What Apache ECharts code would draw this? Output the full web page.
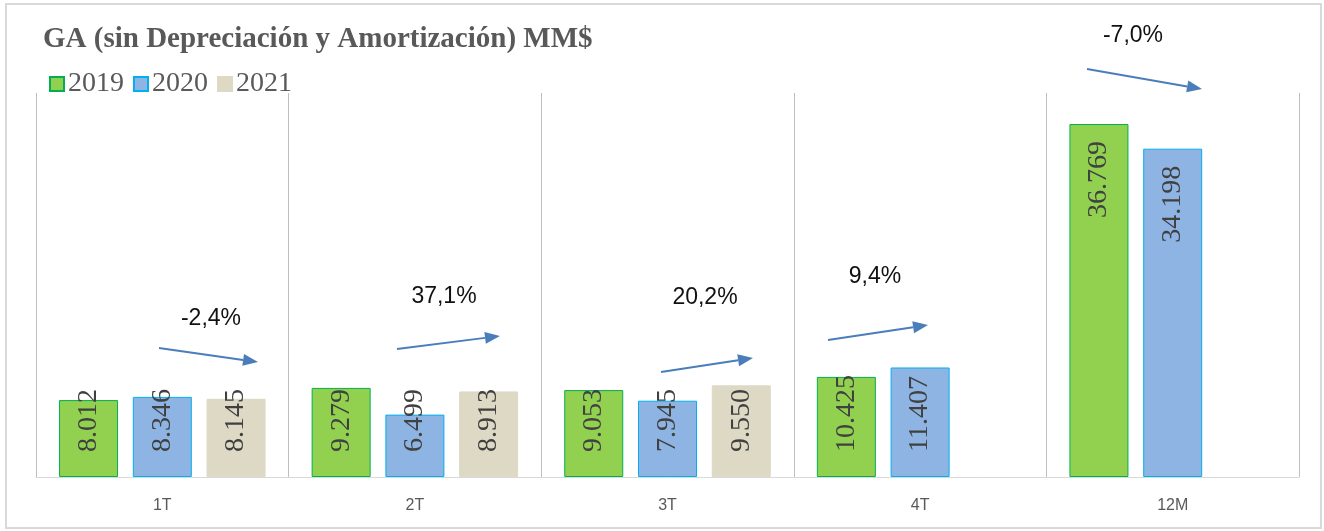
<!DOCTYPE html>
<html>
<head>
<meta charset="utf-8">
<script src="https://cdn.jsdelivr.net/npm/echarts@6/dist/echarts.min.js"></script>
<style>
  html, body { margin: 0; padding: 0; background: #fff; }
  #chartmain { width: 1324px; height: 531px; }
</style>
</head>
<body>
<div id="chartmain"></div>
<script>
var categories = ['1T', '2T', '3T', '4T', '12M'];
var years = ['2019', '2020', '2021'];
var v2019 = [8012, 9279, 9053, 10425, 36769];
var v2020 = [8346, 6499, 7945, 11407, 34198];
var v2021 = [8145, 8913, 9550, null, null];
var variaciones = ['-2,4%', '37,1%', '20,2%', '9,4%', '-7,0%'];

var fills = ['#92D050', '#8DB4E2', '#DDD9C4'];
var borders = ['#00B050', '#00B0F0', '#DDD9C4'];

// etiqueta con punto de miles: 8012 -> 8.012
function fmt(v) {
    var s = String(v);
    return s.slice(0, s.length - 3) + '.' + s.slice(s.length - 3);
}

function datos(arr) {
    return arr.map(function (v) {
        if (v == null) return null;
        if (v > 20000) {
            // barras altas: la etiqueta va arriba
            return { value: v, label: { position: 'insideTop', align: 'right', distance: 17 } };
        }
        return v;
    });
}

// flechas dibujadas a mano en el original
var flechas = [
    { x1: 159, y1: 348, x2: 258, y2: 362, tx: 211, ty: 319 },
    { x1: 397, y1: 349, x2: 500, y2: 336, tx: 444, ty: 297 },
    { x1: 661, y1: 372, x2: 753, y2: 358, tx: 705, ty: 298 },
    { x1: 828, y1: 340, x2: 928, y2: 325, tx: 875, ty: 277 },
    { x1: 1087, y1: 69, x2: 1202, y2: 89, tx: 1133, ty: 36 }
];

var graficos = [{
    type: 'rect',
    shape: { x: 6, y: 4, width: 1315, height: 524 },
    style: { fill: 'none', stroke: '#d9d9d9', lineWidth: 2 },
    silent: true
}];
flechas.forEach(function (f, i) {
    var ang = Math.atan2(f.y2 - f.y1, f.x2 - f.x1);
    var len = 15, half = 6;
    var bx = f.x2 - len * Math.cos(ang), by = f.y2 - len * Math.sin(ang);
    var px = -Math.sin(ang) * half, py = Math.cos(ang) * half;
    graficos.push({
        type: 'line',
        shape: { x1: f.x1, y1: f.y1, x2: bx, y2: by },
        style: { stroke: '#4A7EBB', lineWidth: 2 }
    });
    graficos.push({
        type: 'polygon',
        shape: { points: [[f.x2, f.y2], [bx + px, by + py], [bx - px, by - py]] },
        style: { fill: '#4A7EBB' }
    });
    graficos.push({
        type: 'text',
        x: f.tx, y: f.ty,
        style: {
            text: variaciones[i], fill: '#111',
            font: '23px "Liberation Sans", sans-serif',
            align: 'center', verticalAlign: 'middle'
        }
    });
});

var serieLabel = {
    show: true,
    position: 'insideBottom',
    rotate: 90,
    align: 'left',
    verticalAlign: 'middle',
    distance: 25,
    formatter: function (p) { return fmt(p.value); },
    color: '#404040',
    fontFamily: 'Liberation Serif',
    fontSize: 28
};

var valores = [v2019, v2020, v2021];
var series = years.map(function (y, i) {
    return {
        name: y,
        type: 'bar',
        data: datos(valores[i]),
        barWidth: 59,
        barGap: '25%',
        itemStyle: { color: fills[i], borderColor: borders[i], borderWidth: 1 },
        label: serieLabel,
        emphasis: { disabled: true }
    };
});

var option = {
    animation: false,
    title: {
        text: 'GA (sin Depreciación y Amortización) MM$',
        left: 38,
        top: 20,
        textStyle: { fontFamily: 'Liberation Serif', fontWeight: 'bold', fontSize: 29, color: '#595959' }
    },
    legend: {
        data: years,
        left: 44,
        top: 65,
        icon: 'rect',
        itemWidth: 14,
        itemHeight: 14,
        itemGap: 9,
        textStyle: { fontFamily: 'Liberation Serif', fontSize: 28, color: '#595959', padding: [0, 0, 0, -1] }
    },
    grid: { left: 36, right: 25, top: 93, bottom: 54 },
    xAxis: {
        type: 'category',
        data: categories,
        axisLine: { lineStyle: { color: '#d9d9d9', width: 1 } },
        axisTick: { show: false },
        splitLine: { show: true, lineStyle: { color: '#bfbfbf', width: 1 } },
        axisLabel: { color: '#595959', fontFamily: 'Liberation Sans', fontSize: 16, margin: 21 }
    },
    yAxis: {
        type: 'value',
        min: 0,
        max: 40000,
        show: false,
        splitLine: { show: false }
    },
    series: series,
    graphic: graficos
};

var myChart = echarts.init(document.getElementById('chartmain'));
myChart.setOption(option);
</script>
</body>
</html>
